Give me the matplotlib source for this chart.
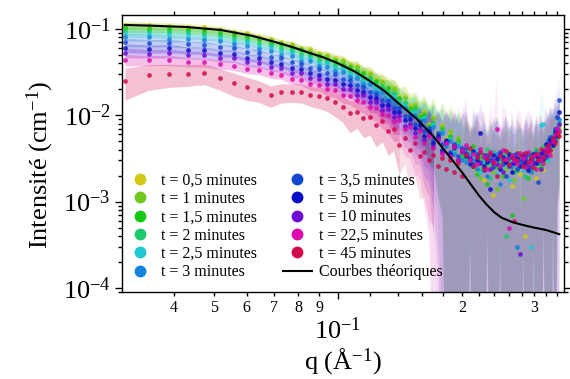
import numpy as np
import matplotlib.pyplot as plt
from matplotlib.lines import Line2D
from matplotlib.ticker import FixedLocator, FuncFormatter, NullFormatter, LogLocator

plt.rcParams['font.family'] = ['Liberation Serif', 'DejaVu Serif']
plt.rcParams['mathtext.fontset'] = 'custom'
plt.rcParams['mathtext.rm'] = 'Liberation Serif'
plt.rcParams['mathtext.default'] = 'regular'

# vecteur de diffusion q (1/Å)
q = [0.0304, 0.0347, 0.0389, 0.0432, 0.0474, 0.0517, 0.0559, 0.0602, 0.0644, 0.0687,
     0.0729, 0.0772, 0.0814, 0.0857, 0.0899, 0.0942, 0.0984, 0.1027, 0.1069, 0.1112,
     0.1154, 0.1197, 0.1239, 0.1282, 0.1324, 0.1367, 0.1409, 0.1452, 0.1494, 0.1537,
     0.1579, 0.1622, 0.1664, 0.1707, 0.1749, 0.1792, 0.1834, 0.1877, 0.1919, 0.1962,
     0.2004, 0.2047, 0.2089, 0.2132, 0.2174, 0.2217, 0.2259, 0.2302, 0.2344, 0.2387,
     0.2429, 0.2472, 0.2514, 0.2557, 0.2599, 0.2642, 0.2684, 0.2727, 0.2769, 0.2812,
     0.2854, 0.2897, 0.2939, 0.2982, 0.3024, 0.3067, 0.3109, 0.3152, 0.3194, 0.3237,
     0.3279, 0.3322, 0.3364, 0.3407, 0.3449]

# intensités (unité : 1e-4 cm-1)
i_05 = [1120, 1100, 1090, 1060, 1040, 985, 930, 885, 815, 770,
        700, 670, 600, 585, 520, 500, 455, 435, 385, 370,
        320, 310, 262, 250, 215, 205, 165, 165, 130, 135,
        100, 112, 80, 95, 62, 78, 55, 62, 40, 52, 38,
        40, 28, 35, 22, 30, 18, 33, 26, 12, 29, 35, 20, 27, 31, 15, 24, 38,
        21, 28, 4, 30, 26, 34, 19, 27, 41, 23, 30, 45, 36, 52, 48, 60, 75]
i_1 = [1080, 1070, 1040, 1035, 990, 960, 895, 850, 790, 745,
       680, 650, 585, 560, 500, 485, 440, 420, 370, 360,
       305, 300, 250, 240, 205, 200, 160, 160, 125, 130,
       100, 105, 78, 92, 60, 75, 50, 66, 42, 55, 35,
       33, 41, 25, 30, 19, 36, 27, 31, 22, 14, 33, 28, 24, 37, 29, 18, 26,
       32, 11, 27, 35, 22, 29, 31, 24, 38, 28, 43, 33, 50, 44, 62, 55, 70]
i_15 = [1020, 1000, 995, 965, 945, 895, 855, 795, 755, 695,
        660, 600, 570, 515, 490, 445, 425, 385, 365, 325,
        310, 270, 250, 215, 205, 175, 160, 140, 118, 120,
        95, 100, 75, 82, 58, 70, 48, 58, 40, 50, 33,
        36, 30, 44, 21, 33, 27, 16, 30, 38, 25, 29, 20, 34, 26, 7, 31, 23,
        28, 36, 25, 19, 33, 27, 40, 30, 26, 36, 31, 48, 40, 58, 52, 66, 80]
i_2 = [950, 935, 915, 910, 870, 845, 785, 750, 695, 655,
       595, 570, 510, 495, 440, 425, 385, 370, 325, 315,
       270, 262, 222, 212, 180, 175, 145, 140, 112, 115,
       90, 95, 72, 80, 58, 66, 46, 55, 38, 48, 32,
       31, 38, 27, 35, 24, 30, 41, 19, 28, 33, 25, 36, 4, 29, 34, 22, 30,
       27, 33, 20, 28, 37, 24, 30, 35, 29, 44, 38, 34, 55, 47, 60, 72, 64]
i_25 = [880, 865, 850, 840, 805, 785, 725, 700, 640, 615,
        555, 535, 475, 460, 405, 398, 355, 345, 300, 292,
        250, 245, 205, 198, 165, 165, 135, 130, 105, 110,
        85, 92, 70, 78, 55, 64, 45, 52, 38, 45, 30,
        38, 26, 32, 40, 22, 29, 34, 27, 37, 21, 30, 26, 33, 18, 28, 36, 25,
        31, 23, 34, 28, 3, 32, 27, 36, 78, 80, 35, 30, 46, 62, 55, 74, 85]
i_3 = [800, 795, 770, 770, 735, 715, 660, 640, 585, 560,
       500, 490, 430, 420, 370, 362, 325, 315, 275, 270,
       228, 228, 188, 185, 152, 152, 122, 122, 98, 102,
       80, 88, 66, 74, 52, 62, 44, 50, 36, 44, 30,
       29, 35, 30, 24, 38, 32, 20, 33, 27, 36, 16, 30, 28, 34, 25, 31, 3,
       29, 35, 26, 30, 22, 33, 38, 28, 35, 40, 33, 52, 44, 58, 66, 60, 90]
i_35 = [700, 685, 690, 660, 655, 610, 600, 545, 530, 475,
        455, 410, 395, 350, 340, 305, 300, 265, 255, 225,
        215, 185, 175, 150, 148, 122, 120, 98, 100, 80,
        85, 65, 72, 52, 62, 46, 52, 38, 46, 34, 42,
        42, 31, 27, 36, 29, 23, 35, 30, 25, 33, 38, 27, 20, 32, 28, 35, 24,
        30, 27, 31, 36, 25, 29, 34, 17, 30, 38, 35, 47, 56, 48, 70, 95, 150]
i_5 = [600, 585, 595, 565, 562, 525, 515, 465, 455, 410,
       395, 350, 342, 305, 295, 262, 258, 228, 222, 195,
       188, 162, 158, 130, 132, 108, 110, 88, 90, 72,
       78, 58, 66, 48, 58, 40, 50, 36, 44, 30, 40,
       34, 27, 39, 30, 62, 26, 29, 14, 35, 31, 24, 33, 29, 36, 22, 28, 32,
       26, 34, 29, 23, 31, 36, 28, 33, 37, 31, 46, 40, 52, 45, 64, 58, 110]
i_10 = [530, 518, 520, 500, 495, 462, 455, 410, 400, 362,
        350, 312, 305, 268, 265, 232, 232, 202, 200, 170,
        170, 142, 142, 115, 118, 95, 98, 76, 80, 62,
        70, 52, 60, 44, 54, 38, 48, 34, 42, 30, 38,
        37, 32, 26, 34, 28, 35, 31, 24, 30, 27, 36, 22, 31, 26, 33, 29, 37,
        2.5, 30, 34, 26, 32, 28, 35, 30, 24, 39, 34, 42, 48, 55, 50, 68, 80]
i_225 = [440, 432, 436, 414, 410, 388, 376, 345, 335, 305,
         296, 265, 258, 230, 224, 200, 196, 172, 168, 150,
         142, 126, 122, 104, 100, 86, 88, 70, 74, 56,
         66, 48, 58, 42, 52, 36, 48, 34, 44, 30, 40,
         45, 30, 36, 27, 41, 33, 24, 38, 29, 70, 26, 40, 31, 5, 35, 30, 27,
         37, 32, 25, 38, 29, 34, 24, 36, 31, 28, 42, 38, 35, 50, 60, 72, 65]
i_45 = [250, 290, 300, 300, 310, 270, 236, 212, 195, 171,
        185, 185, 185, 171, 165, 158, 142, 125, 105, 110,
        92, 95, 78, 85, 66, 70, 45, 55, 40, 48,
        34, 38, 30, 35, 26, 32, 24, 30, 22, 28, 20,
        35, 42, 26, 33, 38, 24, 31, 36, 28, 20, 34, 30, 39, 27, 33, 6, 30,
        35, 26, 37, 29, 32, 25, 36, 30, 41, 33, 38, 45, 40, 55, 48, 62, 58]

# erreurs relatives
err_rel = [0.10, 0.09, 0.09, 0.08, 0.08, 0.08, 0.08, 0.08, 0.08, 0.08,
           0.08, 0.09, 0.09, 0.10, 0.10, 0.11, 0.12, 0.13, 0.14, 0.15,
           0.17, 0.18, 0.20, 0.22, 0.25, 0.28, 0.30, 0.34, 0.38, 0.42,
           0.48, 0.55, 0.62, 0.70, 0.80, 0.90, 1.0, 1.1, 1.2, 1.3,
           1.3, 1.6, 0.9, 1.5, 1.8, 1.0, 1.7, 0.85, 1.6, 1.4,
           1.7, 0.9, 1.5, 1.8, 1.1, 1.6, 0.95, 1.7, 1.5, 0.9,
           1.6, 1.4, 1.7, 0.9, 1.5, 1.2, 1.5, 0.85, 1.3, 1.1,
           1.2, 0.9, 1.0, 0.85, 0.8]
err_rel_45 = [0.40, 0.33, 0.30, 0.28, 0.27, 0.28, 0.30, 0.30, 0.28, 0.28,
              0.25, 0.24, 0.25, 0.26, 0.28, 0.30, 0.32, 0.34, 0.40, 0.36,
              0.40, 0.38, 0.45, 0.42, 0.48, 0.45, 0.55, 0.50, 0.60, 0.58,
              0.68, 0.70, 0.80, 0.85, 0.95, 1.0, 1.1, 1.2, 1.3, 1.4,
              1.3, 1.6, 0.9, 1.5, 1.8, 1.0, 1.7, 0.85, 1.6, 1.4,
              1.7, 0.9, 1.5, 1.8, 1.1, 1.6, 0.95, 1.7, 1.5, 0.9,
              1.6, 1.4, 1.7, 0.9, 1.5, 1.2, 1.5, 0.85, 1.3, 1.1,
              1.2, 0.9, 1.0, 0.85, 0.8]
echelle_err = [1.0, 1.0, 1.0, 1.0, 1.0, 1.0, 1.1, 1.2, 1.3, 1.5]

# courbe théorique
q_theo = [0.0304, 0.035, 0.043, 0.052, 0.062, 0.07, 0.078, 0.085, 0.092, 0.1,
          0.11, 0.118, 0.13, 0.141, 0.155, 0.17, 0.187, 0.2, 0.21, 0.22,
          0.23, 0.24, 0.25, 0.265, 0.28, 0.3, 0.32, 0.345]
i_theo = [0.111, 0.109, 0.105, 0.097, 0.083, 0.071, 0.061, 0.053, 0.047, 0.040,
          0.032, 0.026, 0.019, 0.0135, 0.0092, 0.0058, 0.0033, 0.0022, 0.0016, 0.00118,
          0.00092, 0.00075, 0.00065, 0.00058, 0.00054, 0.0005, 0.00047, 0.00042]

temps = ['0,5', '1', '1,5', '2', '2,5', '3', '3,5', '5', '10', '22,5', '45']
couleurs = ['#d2c814', '#6ec81e', '#14c814', '#1ec86e', '#1ec8d2', '#1482dc',
            '#1446d2', '#0a0ac8', '#6e0ad2', '#dc0aaa', '#d20a50']
series = [i_05, i_1, i_15, i_2, i_25, i_3, i_35, i_5, i_10, i_225, i_45]

fig = plt.figure(figsize=(5.7, 3.79), dpi=100)
ax = fig.add_axes([0.214, 0.2296, 0.775, 0.731])
ax.set_xscale('log')
ax.set_yscale('log')

qa = np.array(q)
# tronçons de bande : plus transparents là où toutes les bandes se superposent
troncons = [(0, 26, 0.25), (26, 33, 0.14), (33, 74, 0.08)]
for i, (serie, coul) in enumerate(zip(series, couleurs)):
    val = np.array(serie) * 1e-4
    if i == 10:
        rel = np.array(err_rel_45)
    else:
        rel = np.array(err_rel) * echelle_err[i]
    bas = np.clip(val * (1 - rel), 1e-6, None)
    haut = val * (1 + rel)
    for d, f, a in troncons:
        ax.fill_between(qa[d:f + 1], bas[d:f + 1], haut[d:f + 1],
                        color=coul, alpha=a, lw=0, zorder=1)

for serie, coul in zip(series, couleurs):
    ax.plot(qa, np.array(serie) * 1e-4, 'o', ms=3.4, color=coul, mec='none',
            alpha=0.85, zorder=2)

ax.plot(q_theo, i_theo, color='k', lw=1.5, zorder=3)

ax.set_xlim(0.0299, 0.3536)
ax.set_ylim(9e-5, 0.145)

# graduations
ax.xaxis.set_major_locator(FixedLocator([0.1]))
ax.xaxis.set_major_formatter(FuncFormatter(lambda v, p: r'$10^{-1}$'))
mineurs = [0.04, 0.05, 0.06, 0.07, 0.08, 0.09, 0.12, 0.14, 0.16, 0.18,
           0.2, 0.22, 0.24, 0.26, 0.28, 0.3, 0.32, 0.34]
etiq = {0.04: '4', 0.05: '5', 0.06: '6', 0.07: '7', 0.08: '8', 0.09: '9',
        0.2: '2', 0.3: '3'}
ax.xaxis.set_minor_locator(FixedLocator(mineurs))
ax.xaxis.set_minor_formatter(FuncFormatter(lambda v, p: etiq.get(round(v, 2), '')))

ax.yaxis.set_major_locator(FixedLocator([1e-4, 1e-3, 1e-2, 1e-1]))
ax.yaxis.set_major_formatter(FuncFormatter(
    lambda v, p: r'$10^{%d}$' % int(round(np.log10(v)))))
ax.yaxis.set_minor_locator(LogLocator(base=10, subs=range(2, 10)))
ax.yaxis.set_minor_formatter(NullFormatter())

ax.tick_params(which='both', direction='out', top=True, right=True, width=1)
ax.tick_params(which='major', length=5)
ax.tick_params(which='minor', length=3)
ax.tick_params(axis='x', which='major', pad=13, labelsize=19)
ax.tick_params(axis='x', which='minor', pad=3, labelsize=11.5, colors='k')
ax.tick_params(axis='y', which='major', labelsize=19, pad=3)
for s in ax.spines.values():
    s.set_linewidth(1.0)

ax.set_xlabel('q (Å$^{-1}$)', fontsize=19)
ax.xaxis.set_label_coords(0.5, -0.195)
ax.set_ylabel('Intensité (cm$^{-1}$)', fontsize=19)
ax.yaxis.set_label_coords(-0.15, 0.46)

# légende
poignees = [Line2D([], [], ls='none', marker='o', ms=7.5, color=c) for c in couleurs]
poignees.append(Line2D([], [], color='k', lw=1.5))
noms = ['t = %s minutes' % t for t in temps] + ['Courbes théoriques']
ax.legend(poignees, noms, ncol=2, frameon=False, loc='lower left',
          bbox_to_anchor=(0.0, 0.03), fontsize=11.5, handlelength=1.85,
          handletextpad=0.4, columnspacing=1.6, labelspacing=0.15,
          borderpad=0.2, borderaxespad=0.0)

fig.savefig('out.png', dpi=100)
